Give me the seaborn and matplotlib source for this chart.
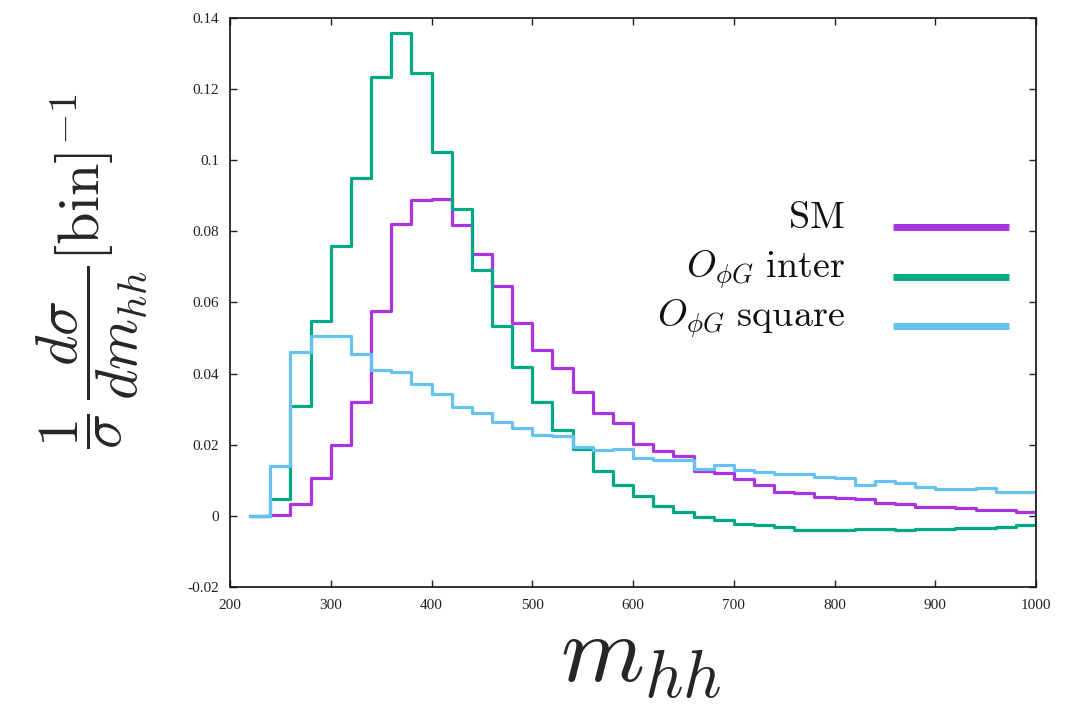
import numpy as np
import pandas as pd
import matplotlib
matplotlib.use("Agg")
import matplotlib.pyplot as plt
from matplotlib.lines import Line2D
import seaborn as sns

# ---- data ----
bin_edges = list(range(220, 1001, 20))
sm = [0.0, 0.0003, 0.0032, 0.0106, 0.0198, 0.0320, 0.0577, 0.0821, 0.0887, 0.0891,
      0.0817, 0.0737, 0.0645, 0.0542, 0.0465, 0.0415, 0.0348, 0.0289, 0.0262, 0.0203,
      0.0182, 0.0167, 0.0127, 0.0120, 0.0103, 0.0086, 0.0066, 0.0063, 0.0053, 0.0051,
      0.0047, 0.0036, 0.0034, 0.0026, 0.0024, 0.0021, 0.0016, 0.0016, 0.0012]
inter = [0.0, 0.0048, 0.0310, 0.0549, 0.0758, 0.0950, 0.1234, 0.1358, 0.1245, 0.1023,
         0.0863, 0.0692, 0.0534, 0.0418, 0.0320, 0.0242, 0.0188, 0.0127, 0.0087, 0.0056,
         0.0028, 0.0011, -0.0002, -0.0013, -0.0023, -0.0026, -0.0031, -0.0039, -0.0039, -0.0039,
         -0.0037, -0.0037, -0.0040, -0.0036, -0.0038, -0.0035, -0.0033, -0.0032, -0.0027]
square = [0.0, 0.0139, 0.0462, 0.0506, 0.0506, 0.0455, 0.0409, 0.0405, 0.0370, 0.0342,
          0.0305, 0.0289, 0.0264, 0.0247, 0.0228, 0.0225, 0.0195, 0.0186, 0.0189, 0.0164,
          0.0158, 0.0157, 0.0132, 0.0142, 0.0129, 0.0124, 0.0117, 0.0117, 0.0110, 0.0106,
          0.0087, 0.0097, 0.0092, 0.0082, 0.0076, 0.0076, 0.0078, 0.0068, 0.0068]
labels = [r"$\mathrm{SM}$", r"$O_{\phi G}\ \mathrm{inter}$", r"$O_{\phi G}\ \mathrm{square}$"]
colors = ["#A934E0", "#00A884", "#66C3EF"]
xticks = [200, 300, 400, 500, 600, 700, 800, 900, 1000]
yticks = [-0.02, 0, 0.02, 0.04, 0.06, 0.08, 0.1, 0.12, 0.14]
ytick_labels = ["-0.02", "0", "0.02", "0.04", "0.06", "0.08", "0.1", "0.12", "0.14"]

# ---- style ----
sns.set_style("ticks")
plt.rcParams["font.family"] = ["Liberation Serif", "DejaVu Serif"]
plt.rcParams["mathtext.fontset"] = "cm"

W, H = 1067, 705
fig = plt.figure(figsize=(W / 100, H / 100), dpi=100)
ax = fig.add_axes([0.2156, 0.1674, 0.7554, 0.8071])

edges = np.array(bin_edges, dtype=float)
centers = (edges[:-1] + edges[1:]) / 2
series = [sm, inter, square]
for vals, col, lab in zip(series, colors, labels):
    df = pd.DataFrame({"m": centers, "w": vals})
    sns.histplot(data=df, x="m", weights="w", bins=list(bin_edges), element="step",
                 fill=False, color=col, linewidth=2.3, ax=ax)
    # closing drop at the last bin edge
    ax.vlines(edges[-1], 0, vals[-1], color=col, linewidth=2.3)

ax.set_xlim(200, 1000)
ax.set_ylim(-0.02, 0.14)
ax.set_xticks(xticks)
ax.set_xticklabels([str(t) for t in xticks])
ax.set_yticks(yticks)
ax.set_yticklabels(ytick_labels)
ax.tick_params(direction="in", top=True, right=True, length=5, width=1,
               labelsize=11, colors="#222222")
ax.tick_params(axis="x", pad=9)
ax.tick_params(axis="y", pad=8)
for s in ax.spines.values():
    s.set_linewidth(1.2)
    s.set_color("#111111")

ax.set_xlabel(r"$m_{hh}$", fontsize=69)
ax.xaxis.set_label_coords(0.51, -0.05)
ax.set_ylabel(r"$\dfrac{1}{\sigma}\,\dfrac{d\sigma}{dm_{hh}}[\mathrm{bin}]^{-1}$", fontsize=42)
ax.yaxis.set_label_coords(-0.1, 0.554)

# gnuplot-style key: right-aligned text, sample line to its right
key_text_right = 845
key_line = (893, 1009)
key_first_baseline = 228
key_step = 49.5
for i, (lab, col) in enumerate(zip(labels, colors)):
    yb = key_first_baseline + i * key_step
    fig.text(key_text_right / W, 1 - yb / H, lab, ha="right", va="baseline",
             fontsize=27.5, color="#111111")
    fig.add_artist(Line2D([key_line[0] / W, key_line[1] / W],
                          [1 - (yb - 1) / H, 1 - (yb - 1) / H],
                          transform=fig.transFigure, color=col, linewidth=5,
                          solid_capstyle="butt"))

fig.savefig("out.png", dpi=100)
